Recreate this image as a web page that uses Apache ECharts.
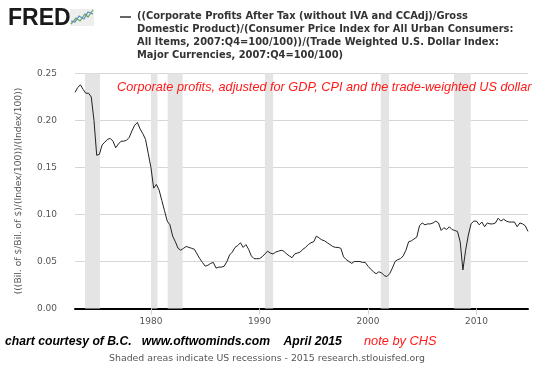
<!DOCTYPE html>
<html><head><meta charset="utf-8">
<script src="https://cdn.jsdelivr.net/npm/echarts@6/dist/echarts.min.js"></script>
<style>html,body{margin:0;padding:0;background:#fff}#c{width:550px;height:365px}</style>
</head><body><div id="c"></div>
<script>
// Quarterly values, 1973Q1 .. 2014Q4 (one row per year)
const startYear = 1973;
const values = [
  0.230,0.235,0.238,0.233, // 1973
  0.229,0.229,0.225,0.200, // 1974
  0.163,0.164,0.174,0.177, // 1975
  0.180,0.181,0.178,0.171, // 1976
  0.175,0.178,0.178,0.179, // 1977
  0.182,0.189,0.195,0.198, // 1978
  0.191,0.186,0.180,0.165, // 1979
  0.150,0.128,0.132,0.126, // 1980
  0.115,0.104,0.093,0.089, // 1981
  0.077,0.071,0.064,0.062, // 1982
  0.064,0.066,0.065,0.064, // 1983
  0.063,0.058,0.053,0.049, // 1984
  0.045,0.046,0.048,0.049, // 1985
  0.043,0.044,0.044,0.045, // 1986
  0.050,0.057,0.060,0.065, // 1987
  0.067,0.070,0.065,0.068, // 1988
  0.063,0.056,0.053,0.053, // 1989
  0.053,0.055,0.058,0.061, // 1990
  0.059,0.058,0.060,0.061, // 1991
  0.062,0.061,0.058,0.056, // 1992
  0.054,0.058,0.059,0.060, // 1993
  0.063,0.065,0.068,0.070, // 1994
  0.071,0.077,0.075,0.073, // 1995
  0.072,0.070,0.068,0.066, // 1996
  0.065,0.065,0.064,0.055, // 1997
  0.052,0.050,0.048,0.050, // 1998
  0.050,0.050,0.049,0.049, // 1999
  0.045,0.042,0.039,0.037, // 2000
  0.039,0.038,0.035,0.034, // 2001
  0.037,0.043,0.050,0.052, // 2002
  0.053,0.056,0.062,0.071, // 2003
  0.072,0.074,0.076,0.088, // 2004
  0.091,0.089,0.090,0.090, // 2005
  0.091,0.093,0.091,0.083, // 2006
  0.086,0.084,0.087,0.084, // 2007
  0.083,0.082,0.071,0.041, // 2008
  0.062,0.078,0.090,0.093, // 2009
  0.093,0.089,0.092,0.087, // 2010
  0.091,0.090,0.090,0.091, // 2011
  0.096,0.093,0.095,0.093, // 2012
  0.092,0.092,0.092,0.087, // 2013
  0.091,0.090,0.088,0.082  // 2014
];
const recessions = [
  [1973.92, 1975.3],
  [1980.0, 1980.6],
  [1981.54, 1982.92],
  [1990.5, 1991.26],
  [2001.18, 2001.94],
  [2007.93, 2009.47]
];
const xTicks = [1980, 1990, 2000, 2010];
const yTicks = [0, 0.05, 0.10, 0.15, 0.20, 0.25];

const seriesName = '((Corporate Profits After Tax (without IVA and CCAdj)/Gross\nDomestic Product)/(Consumer Price Index for All Urban Consumers:\nAll Items, 2007:Q4=100/100))/(Trade Weighted U.S. Dollar Index:\nMajor Currencies, 2007:Q4=100/100)';
const annotation = 'Corporate profits, adjusted for GDP, CPI and the trade-weighted US dollar';
const yName = '(((Bil. of $/Bil. of $)/(Index/100))/(Index/100))';
const credit = 'chart courtesy of B.C.   www.oftwominds.com    April 2015';
const note = 'note by CHS';
const footer = 'Shaded areas indicate US recessions - 2015 research.stlouisfed.org';

const data = values.map((v, i) => [startYear + i * 0.25, v]);

const chart = echarts.init(document.getElementById('c'));
chart.setOption({
  animation: false,
  backgroundColor: '#fff',
  grid: { left: 75, top: 73.5, width: 453, height: 235 },
  xAxis: {
    type: 'value', min: 1973, max: 2014.75,
    axisLine: { show: true, onZero: false, lineStyle: { color: '#000', width: 2 } },
    axisTick: { show: true, customValues: xTicks, length: 6, lineStyle: { color: '#c6d4e4' } },
    axisLabel: { customValues: xTicks, color: '#555', fontFamily: 'DejaVu Sans', fontSize: 9, margin: 9, formatter: v => String(v) },
    splitLine: { show: false }
  },
  yAxis: {
    type: 'value', min: 0, max: 0.25, interval: 0.05,
    name: yName, nameLocation: 'middle', nameGap: 52, nameRotate: 90,
    nameTextStyle: { color: '#555', fontFamily: 'DejaVu Sans', fontSize: 9.2 },
    axisLine: { show: false }, axisTick: { show: false },
    axisLabel: { color: '#555', fontFamily: 'DejaVu Sans', fontSize: 9, margin: 18, formatter: v => v.toFixed(2) },
    splitLine: { lineStyle: { color: '#d6d6d6', width: 1 } }
  },
  series: [{
    type: 'line', name: 'ratio', data: data, showSymbol: false,
    lineStyle: { color: '#222', width: 1 }, z: 3,
    markArea: {
      silent: true,
      itemStyle: { color: '#e4e4e4' },
      data: recessions.map(r => [{ xAxis: r[0] }, { xAxis: r[1] }])
    }
  }],
  graphic: [
    { type: 'text', left: 8, top: 7, z: 100, style: { text: 'FRED', font: 'bold 23px "Liberation Sans"', fill: '#1a1a1a' } },
    { type: 'rect', z: 100, shape: { x: 70, y: 9, width: 24, height: 17 }, style: { fill: '#eeeeee' } },
    { type: 'polyline', z: 101, shape: { points: [[71, 24], [76, 18], [80, 21], [85, 14], [88, 17], [93, 10]] }, style: { stroke: '#6aa84f', lineWidth: 1.2, fill: null } },
    { type: 'polyline', z: 101, shape: { points: [[71, 21], [75, 22], [79, 16], [84, 19], [88, 12], [93, 14]] }, style: { stroke: '#5b8fc9', lineWidth: 1.2, fill: null } },
    { type: 'line', z: 100, shape: { x1: 120, y1: 17, x2: 131, y2: 17 }, style: { stroke: '#333', lineWidth: 1.5 } },
    { type: 'text', left: 137, top: 10, z: 100, style: { text: seriesName, font: 'bold 9.9px "DejaVu Sans"', fill: '#333', lineHeight: 12.9 } },
    { type: 'text', left: 117, top: 81, z: 100, style: { text: annotation, font: 'italic 12.7px "Liberation Sans"', fill: '#ff1a1a' } },
    { type: 'text', left: 5, top: 336, z: 100, style: { text: credit, font: 'italic bold 12.2px "Liberation Sans"', fill: '#000' } },
    { type: 'text', left: 364, top: 335, z: 100, style: { text: note, font: 'italic 12.8px "Liberation Sans"', fill: '#ff1a1a' } },
    { type: 'text', left: 109, top: 354, z: 100, style: { text: footer, font: '9.4px "DejaVu Sans"', fill: '#555' } }
  ]
});
</script></body></html>
